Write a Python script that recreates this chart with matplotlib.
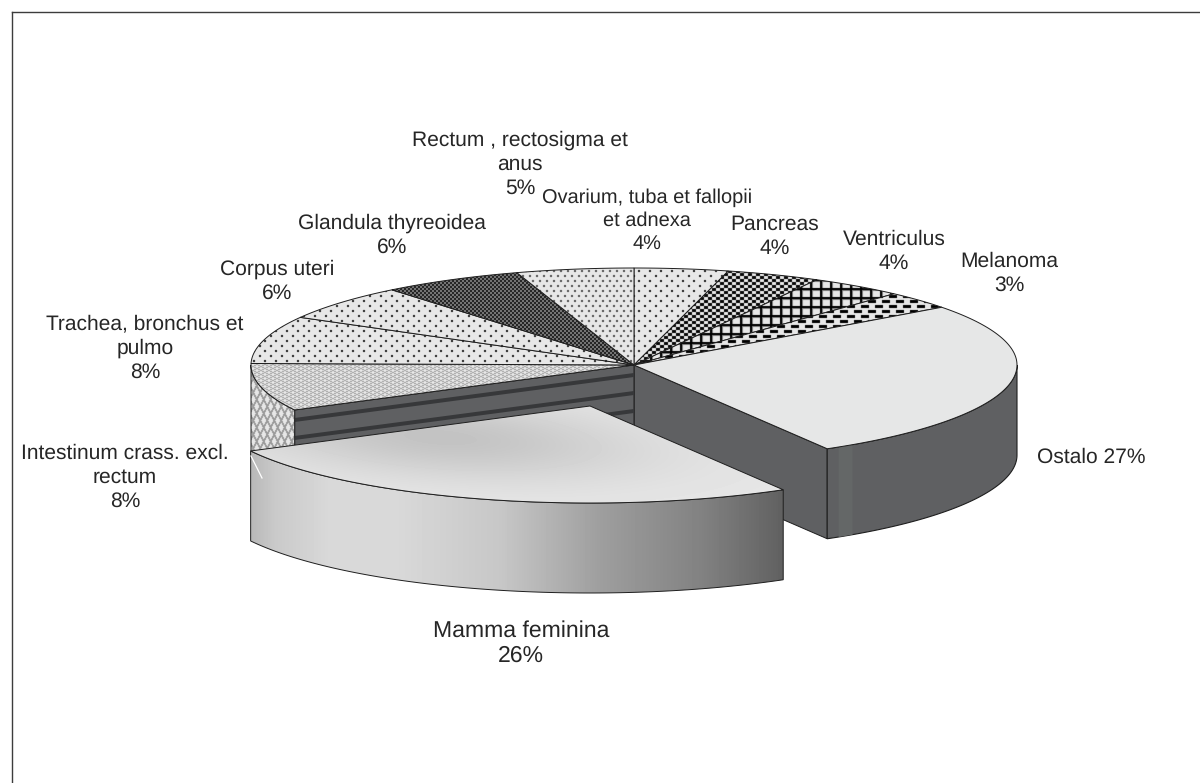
import numpy as np
import matplotlib
matplotlib.use('Agg')
import matplotlib.pyplot as plt
from matplotlib.patches import Polygon

plt.rcParams['font.family'] = ['Liberation Sans', 'DejaVu Sans']
plt.rcParams['text.hinting'] = 'no_hinting'
plt.rcParams['text.hinting_factor'] = 1

# clockwise from 12 o'clock
labels = ['Ovarium, tuba et fallopii\net adnexa\n{}%', 'Pancreas\n{}%', 'Ventriculus\n{}%',
          'Melanoma\n{}%', 'Ostalo {}%', 'Mamma feminina\n{}%',
          'Intestinum crass. excl.\nrectum\n{}%', 'Trachea, bronchus et\npulmo\n{}%',
          'Corpus uteri\n{}%', 'Glandula thyreoidea\n{}%', 'Rectum , rectosigma et\nanus\n{}%']
values = [4, 4, 4, 3, 27, 26, 8, 8, 6, 6, 5]
label_x = [647, 775, 894, 1009, 1091, 521, 125, 145, 277, 392, 520]
label_y = [221, 236, 251, 273, 457, 643, 477, 348, 281, 235, 164.5]
label_size = [14.7, 15.4, 15.4, 15.4, 15.4, 16.6, 15.4, 15.4, 15.4, 15.4, 15.4]
patterns = ['dots', 'check', 'grid', 'dash', 'plain', 'plain', 'fine', 'dots', 'dots', 'dark', 'small']

W, H = 1200, 783
cx, cy, rx, ry = 634, 365, 383, 97
depth = 90
off_x, off_y = -44, 41
LIGHT = 0.905
DARK = '#5f6062'
EDGE = '#1e1e1e'

fig = plt.figure(figsize=(W / 100, H / 100), dpi=100)
ax = fig.add_axes([0, 0, 1, 1])

yy, xx = np.mgrid[0:H, 0:W]


def soften(a):
    s = 0.6 * a
    for ax_n in (0, 1):
        s = s + 0.1 * np.roll(a, 1, ax_n) + 0.1 * np.roll(a, -1, ax_n)
    return s


def make_pattern(kind):
    img = np.full((H, W), LIGHT)
    if kind == 'dots':
        row = (yy // 5)
        on = (yy % 5 < 2) & ((xx + 5 * (row % 2)) % 11 < 2)
        img[on] = 0.1
    elif kind == 'small':
        row = (yy // 5)
        on = (yy % 5 < 2) & ((xx + 3 * (row % 2)) % 7 < 2)
        img[on] = 0.3
    elif kind == 'check':
        img[((xx // 4) + (yy // 3)) % 2 == 0] = 0.03
    elif kind == 'dark':
        img[((xx // 2) + (yy // 2)) % 2 == 0] = 0.05
        img[((xx // 2) + (yy // 2)) % 2 == 1] = 0.55
    elif kind == 'grid':
        img[(xx % 10 == 2) | (yy % 9 == 2)] = 0.5
        img[(xx % 10 < 2) | (yy % 9 < 2)] = 0.0
    elif kind == 'dash':
        row = (yy // 5)
        on = (yy % 5 < 3) & ((xx + 7 * (row % 2)) % 14 < 8)
        img[on] = 0.0
    elif kind == 'fine':
        img[((xx + 2 * yy) % 8 < 2) | ((xx - 2 * yy) % 8 < 2)] = 0.6
    elif kind == 'lattice':
        img[((2 * xx + yy) % 14 < 4) | ((2 * xx - yy) % 14 < 4)] = 0.6
    return soften(img)


def rim(t0, t1, dx=0, dy=0, down=0):
    t = np.radians(np.linspace(t0, t1, 120))
    return np.column_stack([cx + dx + rx * np.sin(t), cy + dy + down - ry * np.cos(t)])


def paint(img, pts):
    im = ax.imshow(img, cmap='gray', vmin=0, vmax=1, extent=(0, W, H, 0), aspect='auto',
                   interpolation='nearest', zorder=2)
    im.set_clip_path(Polygon(pts, transform=ax.transData))
    ax.add_patch(Polygon(pts, closed=True, fill=False, ec=EDGE, lw=0.7, zorder=2))


def outer_wall(t0, t1, dx=0, dy=0):
    return np.vstack([rim(t0, t1, dx, dy), rim(t0, t1, dx, dy, depth)[::-1]])


def cut_face(t, top=0, bottom=depth):
    p = rim(t, t)[0]
    return np.array([[cx, cy + top], [p[0], p[1] + top], [p[0], p[1] + bottom], [cx, cy + bottom]])


edges = np.cumsum([0] + values) / sum(values) * 360
t_ost0, t_ost1 = edges[4], edges[5]
t_mam0, t_mam1 = edges[5], edges[6]
t_int0, t_int1 = edges[6], edges[7]

# cut faces behind the pulled out slice
ax.add_patch(Polygon(cut_face(t_ost1), closed=True, fc=DARK, ec=EDGE, lw=0.7, zorder=1))
ax.add_patch(Polygon(cut_face(t_mam1), closed=True, fc=DARK, ec=EDGE, lw=0.7, zorder=1))
for o in [8, 26, 44, 62, 80]:
    ax.add_patch(Polygon(cut_face(t_mam1, o, o + 4), closed=True, fc='#37383a', lw=0, zorder=1.5))

# side walls
ax.add_patch(Polygon(outer_wall(90, t_ost1), closed=True, fc=DARK, ec=EDGE, lw=0.8, zorder=2))
band = outer_wall(t_ost1 - 4.5, t_ost1 - 2)
ax.add_patch(Polygon(band, closed=True, fc='#646767', lw=0, zorder=2))
paint(make_pattern('lattice'), outer_wall(t_int0, 270))

# top of the pie
for i in range(len(values)):
    if i in (4, 5):
        continue
    pts = np.vstack([[cx, cy], rim(edges[i], edges[i + 1])])
    paint(make_pattern(patterns[i]), pts)
ax.add_patch(Polygon(np.vstack([[cx, cy], rim(t_ost0, t_ost1)]), closed=True, fc='#e6e7e7', ec=EDGE,
                     lw=0.7, zorder=2))

# pulled out slice, shaded
wall_x = [250, 275, 330, 395, 500, 600, 700, 782]
wall_v = [0.72, 0.79, 0.85, 0.85, 0.78, 0.62, 0.51, 0.38]
wall_img = np.interp(xx.astype(float), wall_x, wall_v)
paint(wall_img, outer_wall(t_mam0, t_mam1, off_x, off_y))

dist = ((xx - 440 - (yy - 437) * 1.5) / 190.0) ** 2 + ((yy - 437) / 42.0) ** 2
top_img = LIGHT - 0.14 * np.exp(-dist)
paint(top_img, np.vstack([[cx + off_x, cy + off_y], rim(t_mam0, t_mam1, off_x, off_y)]))
ax.plot([251, 262], [456, 478], color='white', lw=0.9, zorder=3)

for name, v, x, y, s in zip(labels, values, label_x, label_y, label_size):
    ax.text(x, y, name.format(v), ha='center', va='center', fontsize=s, color='#262626',
            linespacing=1.29 * 15.4 / s, zorder=4)

# only top and left of the frame are inside the picture
ax.plot([11.5, W], [11.5, 11.5], color='#3c3c3c', lw=1.0, zorder=4)
ax.plot([11.5, 11.5], [11.5, H], color='#3c3c3c', lw=1.0, zorder=4)

ax.set_xlim(0, W)
ax.set_ylim(H, 0)
ax.axis('off')
fig.savefig('out.png', dpi=100, facecolor='white')
